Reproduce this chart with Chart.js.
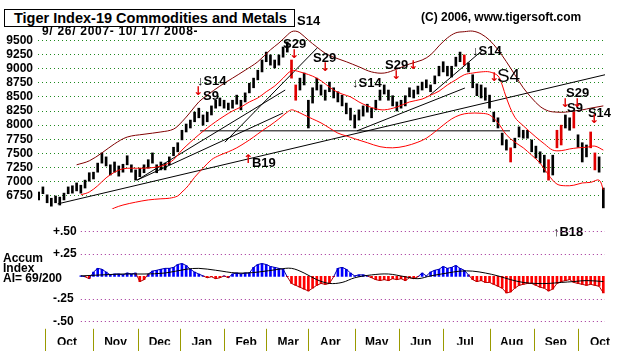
<!DOCTYPE html>
<html>
<head>
<meta charset="utf-8">
<script src="https://cdn.jsdelivr.net/npm/chart.js@4.4.1/dist/chart.umd.min.js"></script>
<style>
  html, body { margin:0; padding:0; background:#fff; }
  #wrap { position:relative; width:634px; height:351px; overflow:hidden; background:#fff; }
  #wrap canvas { position:absolute; left:0; top:0; }
  .txt { position:absolute; white-space:nowrap; color:#000; font-family:"Liberation Sans", Arial, sans-serif; font-weight:bold; z-index:5; }
  #title { left:4px; top:9px; width:291px; height:18px; box-sizing:border-box; border:1px solid #000; font-size:14.5px; line-height:16px; padding-left:9px; background:#fff; }
  #range { left:42px; top:25px; font-size:12px; line-height:12px; letter-spacing:0.7px; }
  #copy { left:421px; top:11px; font-size:12px; line-height:12px; }
  #ailabel { left:3px; top:253px; font-size:12px; line-height:10px; }
</style>
</head>
<body>
<div id="wrap">
  <canvas id="priceCanvas" width="634" height="351"></canvas>
  <canvas id="accumCanvas" width="634" height="351"></canvas>
  <div class="txt" id="title">Tiger Index-19 Commodities and Metals</div>
  <div class="txt" id="range">9/ 26/ 2007- 10/ 17/ 2008-</div>
  <div class="txt" id="copy">(C) 2006, www.tigersoft.com</div>
  <div class="txt" id="ailabel">Accum<br>Index<br>AI= 69/200</div>
</div>
<script>
// ---------------- DATA ----------------
// trading-day index 0 = 9/26/2007 ... 268 = 10/17/2008 ; bars sampled every 2nd trading day
const monthStarts = [3, 26, 47, 67, 88, 108, 128, 150, 171, 192, 214, 235, 256];
const monthLabels = ['Oct','Nov','Dec','Jan','Feb','Mar','Apr','May','Jun','Jul','Aug','Sep','Oct'];
const priceTicks = [6750,7000,7250,7500,7750,8000,8250,8500,8750,9000,9250,9500];

const highs = [
 6820,6910,6770,6710,6750,6730,6800,6910,6930,6980,
 6940,7030,7160,7170,7330,7510,7440,7300,7350,7280,
 7310,7460,7300,7210,7240,7300,7390,7510,7300,7350,
 7330,7440,7610,7690,7910,8020,8090,8230,8300,8180,
 8230,8340,8440,8480,8440,8390,8440,8530,8440,8570,
 8740,8830,8970,9150,9290,9240,9150,9240,9380,9470,
 9150,8710,8830,8920,8440,8660,8830,8710,8620,8760,
 8660,8590,8530,8390,8300,8180,8270,8340,8370,8300,
 8440,8620,8710,8620,8520,8410,8440,8520,8660,8620,
 8690,8760,8800,8710,8870,9040,9120,9040,9040,9200,
 9290,9240,9100,8890,8730,8710,8660,8530,8230,8130,
 7860,7740,7600,7770,7970,7910,7910,7740,7630,7530,
 7470,7390,7470,7910,8000,8180,8130,8230,7830,7690,
 7650,7880,7510,7440,6890];
const lows = [
 6680,6790,6630,6570,6630,6590,6680,6790,6800,6840,
 6800,6890,7010,7050,7170,7330,7280,7120,7170,7100,
 7170,7300,7170,7030,7090,7160,7240,7330,7160,7210,
 7210,7300,7460,7530,7740,7880,7950,8060,8130,8000,
 8060,8180,8300,8340,8300,8270,8300,8370,8270,8410,
 8570,8660,8800,8940,9120,9060,9010,9060,9200,9290,
 8830,8440,8620,8710,7950,8390,8620,8530,8440,8590,
 8480,8410,8340,8200,8090,7950,8090,8160,8230,8130,
 8270,8440,8550,8440,8340,8250,8300,8340,8500,8480,
 8550,8620,8660,8590,8730,8870,8940,8870,8850,9040,
 9120,9060,8940,8660,8520,8480,8440,8300,8060,7950,
 7650,7560,7350,7600,7790,7770,7770,7530,7420,7330,
 7170,7030,7120,7600,7650,7950,7910,7950,7610,7350,
 7440,7600,7210,7170,6540];
const redBarDays = [120,122,202,224,242,246,248,254,262,264];

const upperDays = [18,24,30,36,42,50,58,64,68,72,76,80,86,92,98,104,110,114,118,120,122,124,128,132,136,140,146,152,158,164,170,176,182,186,190,194,198,202,206,210,214,218,222,226,230,234,238,242,246,250,254,258,262,268];
const upperVals = [7300,7370,7510,7670,7790,7840,7880,7930,8060,8230,8410,8530,8690,8830,8970,9120,9330,9450,9590,9650,9660,9630,9500,9380,9270,9200,9120,9030,8940,8920,8990,9080,9150,9240,9400,9540,9630,9650,9660,9610,9500,9330,9120,8890,8660,8480,8330,8250,8230,8230,8250,8270,8300,8340];
const midDays = [20,24,28,32,36,40,44,50,56,60,64,68,72,76,80,84,88,92,96,100,104,108,112,116,120,124,132,140,144,148,152,156,160,164,170,176,182,186,190,194,198,202,206,210,214,218,220,222,226,230,236,240,244,248,252,256,260,264,268];
const midVals = [6770,6820,6930,7070,7170,7230,7240,7240,7260,7300,7390,7560,7700,7830,7950,8060,8160,8250,8320,8410,8480,8590,8690,8830,8960,8940,8830,8620,8550,8500,8410,8340,8290,8270,8320,8410,8460,8530,8600,8710,8800,8890,8920,8940,8940,8870,8710,8480,8140,7990,7790,7670,7560,7550,7580,7600,7610,7630,7560];
const lowerDays = [34,36,40,46,52,58,62,66,68,70,72,74,78,82,86,90,94,98,102,106,110,114,118,120,122,126,130,134,138,142,146,150,156,162,168,174,180,184,188,192,196,200,204,210,214,218,222,226,230,234,238,242,246,250,254,258,262,266,268];
const lowerVals = [6500,6540,6590,6640,6680,6700,6710,6750,6820,6890,6980,7080,7240,7390,7470,7530,7600,7690,7790,7900,8000,8110,8230,8270,8250,8180,8110,8040,7950,7860,7810,7760,7690,7620,7600,7630,7700,7770,7880,8000,8110,8180,8210,8210,8180,8040,7830,7700,7600,7470,7330,7120,6960,6930,6940,6980,6990,7030,6860];

const trendStartDay = [9, 46.7, 46.7, 88.4, 76.6, 151.1, 185.7];
const trendStartVal = [6610, 7030, 7030, 7700, 7900, 7900, 8530];
const trendEndDay   = [268.8, 116, 117, 132.1, 223.7, 202.3, 210.9];
const trendEndVal   = [8890, 8215, 8620, 9360, 7900, 8656, 9330];

const sigText  = ['↓S14','S9','S14','S29','S29','↓S14','S29','↓S14','S4','S29','S9','S14','B19','↑B18'];
const sigDay   = [75.1, 78.0, 122.6, 116.0, 130.2, 148.7, 164.4, 205.7, 217.5, 250.3, 250.8, 260.7, 101.2, 244.1];
const sigLevel = [8709, 8444, 9768, 9362, 9115, 8674, 8992, 9239, 8762, 8497, 8232, 8144, 7261, 6043];
const arrowText  = ['↓','↓','↓','↓','↓','↓','↓','↓','↓','↑'];
const arrowDay   = [73.2, 118.8, 133.5, 167.2, 175.3, 213.7, 247.4, 253.1, 261.2, 97.0];
const arrowLevel = [8533, 9186, 8956, 8815, 8992, 8780, 8321, 8321, 8038, 7332];

// Accumulation index (every 2nd trading day from day 20)
const aiVals = [
 0.005,-0.005,-0.026,0.047,0.089,0.079,0.047,0.016,0.026,0.026,
 0.016,0.037,0.026,0.037,-0.058,-0.037,0.026,0.058,0.068,0.079,
 0.089,0.089,0.100,0.132,0.142,0.121,0.079,0.047,0.026,0.005,
 -0.016,-0.005,-0.026,-0.016,0.005,-0.016,0.026,0.037,0.026,0.037,
 0.037,0.100,0.132,0.142,0.132,0.110,0.100,0.089,0.079,-0.005,
 -0.079,-0.100,-0.121,-0.142,-0.163,-0.132,-0.100,-0.079,-0.089,-0.079,
 -0.005,0.089,0.100,0.079,0.037,0.005,0.016,0.016,0.005,-0.016,
 -0.037,-0.047,-0.037,-0.047,-0.026,-0.037,-0.026,-0.047,-0.016,-0.026,
 -0.005,0.037,0.005,0.047,0.068,0.079,0.110,0.089,0.100,0.121,
 0.089,0.068,0.016,-0.037,-0.058,-0.047,-0.068,-0.068,-0.089,-0.110,
 -0.132,-0.184,-0.174,-0.132,-0.100,-0.089,-0.079,-0.079,-0.100,-0.121,
 -0.132,-0.163,-0.142,-0.079,-0.058,-0.047,-0.037,-0.068,-0.079,-0.089,
 -0.100,-0.089,-0.100,-0.110,-0.184];
const aiFirstDay = 20;
const maDays = [20,30,40,50,60,70,76,84,94,104,114,120,126,132,138,144,150,158,166,174,180,186,194,200,206,212,218,224,230,236,242,248,254,260,268];
const maVals = [0.005,0.016,0.026,0.026,0.037,0.079,0.089,0.068,0.037,0.047,0.079,0.089,0.037,-0.037,-0.079,-0.068,-0.016,0.016,0.026,-0.005,-0.026,0.005,0.037,0.058,0.058,0.037,0.005,-0.037,-0.068,-0.079,-0.079,-0.068,-0.058,-0.047,-0.058];
const accumTicks = [-0.5, -0.25, 0.25, 0.5];
const accumTickLabels = ['-.50', '-.25', '+.25', '+.50'];

// ---------------- BUILD ----------------
Chart.defaults.font.family = '"Liberation Sans", Arial, sans-serif';
const X_MIN = -0.33, X_MAX = 268.8;
const pts = (d, v) => d.map((x, k) => ({x: x, y: v[k]}));
const barDays = highs.map((_, k) => 2 * k);
const bars = barDays.map((d, k) => ({x: d, y: [lows[k], highs[k]]}));
const barColors = barDays.map(d => redBarDays.includes(d) ? '#e00000' : '#000000');

const lineDs = (data, color, tension) => ({
  type: 'line', data: data, borderColor: color, borderWidth: 1, pointRadius: 0,
  tension: tension, fill: false, order: 0
});

const trendSets = trendStartDay.map((d, k) =>
  lineDs([{x: d, y: trendStartVal[k]}, {x: trendEndDay[k], y: trendEndVal[k]}], '#000000', 0));

const signalPlugin = {
  id: 'signals',
  afterDraw(chart) {
    const {ctx, scales: {x, y}} = chart;
    ctx.save();
    ctx.textAlign = 'left';
    ctx.textBaseline = 'alphabetic';
    sigText.forEach((t, k) => {
      ctx.font = (t === 'S4') ? '19px "Liberation Sans"' : 'bold 13px "Liberation Sans"';
      ctx.fillStyle = '#000';
      ctx.fillText(t, x.getPixelForValue(sigDay[k]), y.getPixelForValue(sigLevel[k]));
    });
    ctx.font = 'bold 12px "DejaVu Sans"';
    ctx.fillStyle = '#e00000';
    arrowText.forEach((t, k) => {
      ctx.fillText(t, x.getPixelForValue(arrowDay[k]), y.getPixelForValue(arrowLevel[k]));
    });
    ctx.restore();
  }
};

new Chart(document.getElementById('priceCanvas'), {
  type: 'bar',
  data: {
    datasets: [
      lineDs(pts(upperDays, upperVals), '#800000', 0.35),
      lineDs(pts(midDays, midVals), '#ff0000', 0.35),
      lineDs(pts(lowerDays, lowerVals), '#ff0000', 0.35),
      ...trendSets,
      { type: 'bar', data: bars, backgroundColor: barColors, barThickness: 2, borderWidth: 0, order: 1 }
    ]
  },
  options: {
    responsive: false, animation: false, devicePixelRatio: 1,
    layout: { padding: { top: 30, bottom: 142, right: 29, left: 0 }, autoPadding: false },
    plugins: { legend: { display: false }, tooltip: { enabled: false } },
    scales: {
      x: { type: 'linear', min: X_MIN, max: X_MAX, offset: false, display: false },
      y: {
        min: 6520, max: 9680,
        afterBuildTicks: s => { s.ticks = priceTicks.map(v => ({value: v})); },
        afterFit: s => { s.width = 38; },
        ticks: { autoSkip: false, callback: v => String(v), color: '#000', font: { size: 12, weight: 'bold' }, padding: 5 },
        grid: { color: '#1f8a1f', drawTicks: false, lineWidth: 1 },
        border: { display: false, dash: [1, 3] }
      }
    }
  },
  plugins: [signalPlugin]
});

const aiDays = aiVals.map((_, k) => aiFirstDay + 2 * k);
const aiBars = pts(aiDays, aiVals);

const accumGrid = {
  id: 'accumGrid',
  beforeDatasetsDraw(chart) {
    const {ctx, chartArea, scales: {x, y}} = chart;
    const x0 = x.getPixelForValue(aiFirstDay);
    ctx.save();
    ctx.strokeStyle = '#a02a96';
    ctx.lineWidth = 1;
    ctx.setLineDash([1, 3]);
    accumTicks.forEach(v => {
      const py = Math.round(y.getPixelForValue(v)) + 0.5;
      ctx.beginPath(); ctx.moveTo(x0, py); ctx.lineTo(chartArea.right, py); ctx.stroke();
    });
    ctx.restore();
  },
  afterDraw(chart) {
    // month separators on the date axis
    const {ctx, chartArea, scales: {x}} = chart;
    ctx.save();
    ctx.strokeStyle = '#9a9a00';
    ctx.lineWidth = 1;
    monthStarts.forEach(d => {
      const px = Math.round(x.getPixelForValue(d)) + 0.5;
      ctx.beginPath(); ctx.moveTo(px, chartArea.bottom); ctx.lineTo(px, chart.height); ctx.stroke();
    });
    ctx.restore();
  }
};

new Chart(document.getElementById('accumCanvas'), {
  type: 'bar',
  data: {
    datasets: [
      { type: 'line', data: pts(maDays, maVals), borderColor: '#000', borderWidth: 1, pointRadius: 0, tension: 0.35, order: 0 },
      { type: 'line', data: aiBars, borderWidth: 1, pointRadius: 0, tension: 0, order: 0,
        segment: { borderColor: c => (c.p0.parsed.y + c.p1.parsed.y) >= 0 ? '#0000b0' : '#b00000' } },
      { type: 'bar', data: aiBars, backgroundColor: aiVals.map(v => v >= 0 ? '#0000ff' : '#ff0000'),
        barThickness: 2, borderWidth: 0, order: 1 }
    ]
  },
  options: {
    responsive: false, animation: false, devicePixelRatio: 1,
    layout: { padding: { top: 222, bottom: 0, right: 29, left: 0 }, autoPadding: false },
    plugins: { legend: { display: false }, tooltip: { enabled: false } },
    scales: {
      x: {
        type: 'linear', min: X_MIN, max: X_MAX, offset: false, position: 'bottom',
        afterBuildTicks: s => { s.ticks = monthStarts.map(v => ({value: v})); },
        afterFit: s => { s.height = 16; },
        ticks: { autoSkip: false, maxRotation: 0, minRotation: 0, callback: (v, i) => monthLabels[i],
                 labelOffset: 22, padding: 8, color: '#000', font: { size: 12, weight: 'bold', lineHeight: 1 } },
        grid: { display: false, drawOnChartArea: false, drawTicks: false },
        border: { display: false }
      },
      y: {
        min: -0.584, max: 0.605,
        afterBuildTicks: s => { s.ticks = accumTicks.map(v => ({value: v})); },
        afterFit: s => { s.width = 38; },
        ticks: { autoSkip: false, mirror: true, padding: 15, callback: (v, i) => accumTickLabels[i], color: '#000', font: { size: 12, weight: 'bold' } },
        grid: { display: false },
        border: { display: false }
      }
    }
  },
  plugins: [accumGrid]
});
</script>
</body>
</html>
